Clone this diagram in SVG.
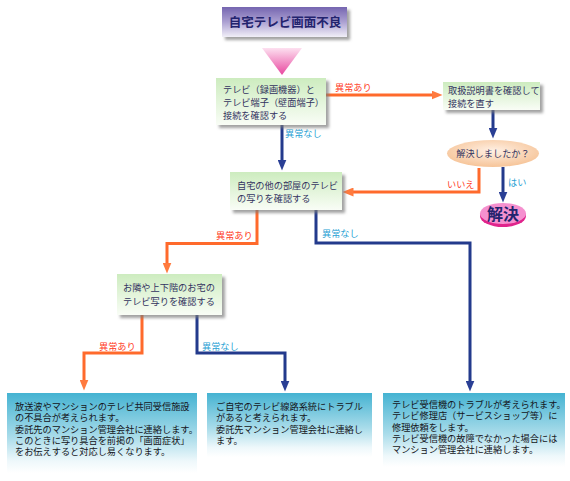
<svg xmlns="http://www.w3.org/2000/svg" width="570" height="481" viewBox="0 0 570 481">
<style>
text{font-family:"Noto Sans CJK JP","Noto Sans CJK SC",sans-serif;}
.t{font-size:9.2px;fill:#333360;}
.b{font-size:9.2px;fill:#141420;}
.lr{font-size:9.2px;fill:#ff3a1e;}
.lb{font-size:9.2px;fill:#2a9fd4;}
.o{fill:none;stroke:#ff6a2c;stroke-width:3;}
.u{fill:none;stroke:#233a8c;stroke-width:3;}
.gbox{fill:url(#gGreen);filter:url(#sh);}
</style>
<defs>
<filter id="sh" x="-10%" y="-10%" width="130%" height="140%">
<feDropShadow dx="3" dy="3" stdDeviation="1.5" flood-color="#7a7a7a" flood-opacity="0.7"/>
</filter>
<linearGradient id="gTitle" x1="0" y1="0" x2="0" y2="1">
<stop offset="0" stop-color="#7565b0"/>
<stop offset="0.5" stop-color="#aca1d2"/>
<stop offset="1" stop-color="#f1eff8"/>
</linearGradient>
<linearGradient id="gTri" x1="0" y1="0" x2="0" y2="1">
<stop offset="0" stop-color="#fde0f0"/>
<stop offset="1" stop-color="#e8479f"/>
</linearGradient>
<linearGradient id="gGreen" x1="0" y1="0" x2="0" y2="1">
<stop offset="0" stop-color="#cdecbf"/>
<stop offset="1" stop-color="#f9fdf6"/>
</linearGradient>
<linearGradient id="gBlue" x1="0" y1="0" x2="0" y2="1">
<stop offset="0" stop-color="#45b3d2"/>
<stop offset="0.55" stop-color="#a9dcea"/>
<stop offset="0.85" stop-color="#eef8fb"/>
<stop offset="1" stop-color="#ffffff"/>
</linearGradient>
<radialGradient id="gPeach" cx="0.5" cy="0.4" r="0.6">
<stop offset="0" stop-color="#fff0e4"/>
<stop offset="1" stop-color="#f6c498"/>
</radialGradient>
<marker id="ao" viewBox="0 0 11 9" markerWidth="11" markerHeight="9" refX="0.5" refY="4.5" orient="auto" markerUnits="userSpaceOnUse">
<path d="M0,0 L11,4.5 L0,9 z" fill="#ff7a3e"/>
</marker>
<marker id="au" viewBox="0 0 11 9" markerWidth="11" markerHeight="9" refX="0.5" refY="4.5" orient="auto" markerUnits="userSpaceOnUse">
<path d="M0,0 L11,4.5 L0,9 z" fill="#2a3f95"/>
</marker>
</defs>

<g id="connectors">
<path class="o" d="M326,95 H432" marker-end="url(#ao)"/>
<path class="u" d="M282,125 V160" marker-end="url(#au)"/>
<path class="u" d="M493,110 V128" marker-end="url(#au)"/>
<path class="u" d="M503,167 V192" marker-end="url(#au)"/>
<path class="o" d="M479,168 V192 H353" marker-end="url(#ao)"/>
<path class="o" d="M257,210 V243.5 H167 V263" marker-end="url(#ao)"/>
<path class="u" d="M316,210 V243 H470 V381" marker-end="url(#au)"/>
<path class="o" d="M142,315 V353 H84 V380" marker-end="url(#ao)"/>
<path class="u" d="M197,315 V353 H285 V381" marker-end="url(#au)"/>
<text class="lr" x="335" y="90.5">異常あり</text>
<text class="lb" x="285" y="137">異常なし</text>
<text class="lr" x="447" y="188">いいえ</text>
<text class="lb" x="508" y="186">はい</text>
<text class="lr" x="216" y="239">異常あり</text>
<text class="lb" x="322" y="237">異常なし</text>
<text class="lr" x="99" y="350">異常あり</text>
<text class="lb" x="202" y="350">異常なし</text>
</g>

<g id="title">
<rect x="222" y="7" width="125" height="30" fill="url(#gTitle)" filter="url(#sh)"/>
<text x="285" y="27" text-anchor="middle" style="font-size:12.5px;font-weight:bold;fill:#23236e">自宅テレビ画面不良</text>
</g>

<g id="pointer">
<polygon points="262,48 302,48 282,75" fill="url(#gTri)"/>
</g>

<g id="check-connection">
<rect class="gbox" x="216" y="78" width="110" height="47"/>
<text class="t" x="223" y="93">テレビ（録画機器）と</text>
<text class="t" x="223" y="106">テレビ端子（壁面端子）</text>
<text class="t" x="223" y="119">接続を確認する</text>
</g>

<g id="read-manual">
<rect class="gbox" x="443" y="82" width="97" height="28"/>
<text class="t" x="448" y="93.5">取扱説明書を確認して</text>
<text class="t" x="448" y="106.5">接続を直す</text>
</g>

<g id="solved-question">
<ellipse cx="493" cy="153.5" rx="46" ry="13.5" fill="url(#gPeach)"/>
<text class="t" x="493" y="157" text-anchor="middle">解決しましたか？</text>
</g>

<g id="solved">
<ellipse cx="503" cy="216" rx="23" ry="11" fill="#e0248c"/>
<ellipse cx="503" cy="213.5" rx="23" ry="10.5" fill="#f590cf"/>
<text x="503" y="219.5" text-anchor="middle" style="font-size:16px;font-weight:bold;fill:#23236e">解決</text>
</g>

<g id="check-other-rooms">
<rect class="gbox" x="230" y="172" width="112" height="38"/>
<text class="t" x="237" y="188.5">自宅の他の部屋のテレビ</text>
<text class="t" x="237" y="201.5">の写りを確認する</text>
</g>

<g id="check-neighbors">
<rect class="gbox" x="117" y="274" width="105" height="41"/>
<text class="t" x="123" y="290.5">お隣や上下階のお宅の</text>
<text class="t" x="123" y="305">テレビ写りを確認する</text>
</g>

<g id="result-shared">
<rect x="7" y="393" width="190" height="80" fill="url(#gBlue)"/>
<text class="b" x="15" y="410">放送波やマンションのテレビ共同受信施設</text>
<text class="b" x="15" y="421.3">の不具合が考えられます。</text>
<text class="b" x="15" y="432.6">委託先のマンション管理会社に連絡します。</text>
<text class="b" x="15" y="443.9">このときに写り具合を前掲の「画面症状」</text>
<text class="b" x="15" y="455.2">をお伝えすると対応し易くなります。</text>
</g>

<g id="result-wiring">
<rect x="207" y="393" width="165" height="64" fill="url(#gBlue)"/>
<text class="b" x="216" y="410">ご自宅のテレビ線路系統にトラブル</text>
<text class="b" x="216" y="421.3">があると考えられます。</text>
<text class="b" x="216" y="432.6">委託先マンション管理会社に連絡し</text>
<text class="b" x="216" y="443.9">ます。</text>
</g>

<g id="result-receiver">
<rect x="383" y="393" width="182" height="74" fill="url(#gBlue)"/>
<text class="b" x="392" y="408">テレビ受信機のトラブルが考えられます。</text>
<text class="b" x="392" y="419.3">テレビ修理店（サービスショップ等）に</text>
<text class="b" x="392" y="430.6">修理依頼をします。</text>
<text class="b" x="392" y="441.9">テレビ受信機の故障でなかった場合には</text>
<text class="b" x="392" y="453.2">マンション管理会社に連絡します。</text>
</g>
</svg>
